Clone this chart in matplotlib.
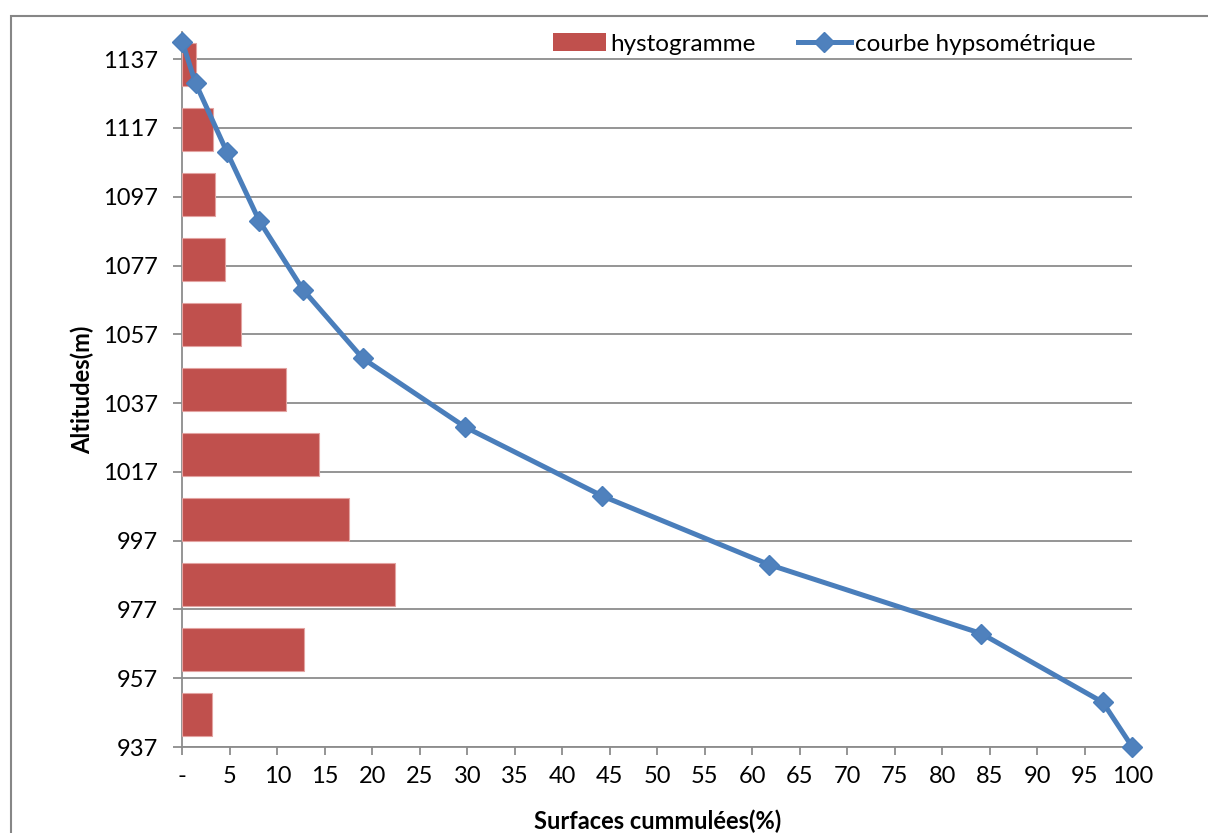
import matplotlib
matplotlib.use("Agg")
import matplotlib.pyplot as plt
from matplotlib.patches import Rectangle, Patch
from matplotlib.lines import Line2D

plt.rcParams['font.family'] = ['Lato', 'DejaVu Sans']

# ---- data ----
hist_values = [3.1, 12.8, 22.4, 17.5, 14.4, 10.9, 6.2, 4.5, 3.4, 3.2, 1.4]   # % per altitude band (bottom -> top)
curve_surface = [100, 96.9, 84.1, 61.8, 44.2, 29.8, 19.0, 12.7, 8.1, 4.7, 1.4, 0]  # cumulative %
curve_altitude = [937, 950, 970, 990, 1010, 1030, 1050, 1070, 1090, 1110, 1130, 1142]
y_ticks = [937, 957, 977, 997, 1017, 1037, 1057, 1077, 1097, 1117, 1137]
x_ticks = list(range(0, 101, 5))
x_tick_labels = ['-'] + [str(v) for v in x_ticks[1:]]

BAR_COLOR = '#C0504D'
LINE_COLOR = '#4A7EBB'
GRID = '#8C8C8C'

W, H = 1208, 833
fig = plt.figure(figsize=(W / 100, H / 100), dpi=100)

left, right, bottom, top = 182.3, 1132.3, 747.0, 31.7
pos = [left / W, 1 - bottom / H, (right - left) / W, (bottom - top) / H]

# base axes: altitude scale, gridlines, ticks
ax = fig.add_axes(pos)
ax.set_xlim(0, 100)
ax.set_ylim(937, 1145)
ax.set_yticks(y_ticks)
ax.set_xticks(x_ticks)
ax.set_xticklabels(x_tick_labels)
ax.yaxis.grid(True, color=GRID, lw=1.3)
ax.set_axisbelow(True)
for s in ['top', 'right']:
    ax.spines[s].set_visible(False)
for s in ['left', 'bottom']:
    ax.spines[s].set_color(GRID)
    ax.spines[s].set_linewidth(1.3)
ax.tick_params(axis='y', length=6.5, width=1.3, color=GRID, pad=11, labelsize=17)
ax.tick_params(axis='x', length=6, width=1.3, color=GRID, pad=8, labelsize=17)
ax.set_ylabel('Altitudes(m)', fontsize=17, fontweight='bold', va='center')
ax.yaxis.set_label_coords(-0.105, 0.5)
ax.set_xlabel('Surfaces cummulées(%)', fontsize=17, fontweight='bold', va='center')
ax.xaxis.set_label_coords(0.5, -0.104)

# bars on a category axis
axb = ax.twinx()
axb.set_ylim(-0.5, len(hist_values) - 0.5)
axb.barh(range(len(hist_values)), hist_values, height=0.667, color=BAR_COLOR,
         edgecolor='#E3A3A1', linewidth=0.8)
axb.set_yticks([])
for s in axb.spines.values():
    s.set_visible(False)

# curve on an axis sharing the altitude scale
axl = ax.twiny()
axl.set_xlim(0, 100)
axl.plot(curve_surface, curve_altitude, color=LINE_COLOR, lw=3.6, marker='D',
         markersize=10.5, markerfacecolor='#4F81BD', markeredgecolor=LINE_COLOR,
         clip_on=False, solid_joinstyle='round')
axl.set_xticks([])
for s in axl.spines.values():
    s.set_visible(False)

handles = [Patch(facecolor=BAR_COLOR, edgecolor='none'),
           Line2D([], [], color=LINE_COLOR, lw=3.6, marker='D', markersize=10.5,
                  markerfacecolor='#4F81BD', markeredgecolor=LINE_COLOR)]
fig.legend(handles, ['hystogramme', 'courbe hypsométrique'], ncol=2, frameon=False,
           loc='center', bbox_to_anchor=(824 / W, 1 - 44 / H), fontsize=17.5,
           handlelength=2.2, handletextpad=0.15, columnspacing=1.75, handleheight=0.7)

# chart area border
fig.add_artist(Rectangle((11 / W, -0.05), 1.2, 1 - 16 / H + 0.05, transform=fig.transFigure,
                         fill=False, edgecolor='#868686', lw=1.5, clip_on=False))

fig.savefig('out.png', dpi=100)
